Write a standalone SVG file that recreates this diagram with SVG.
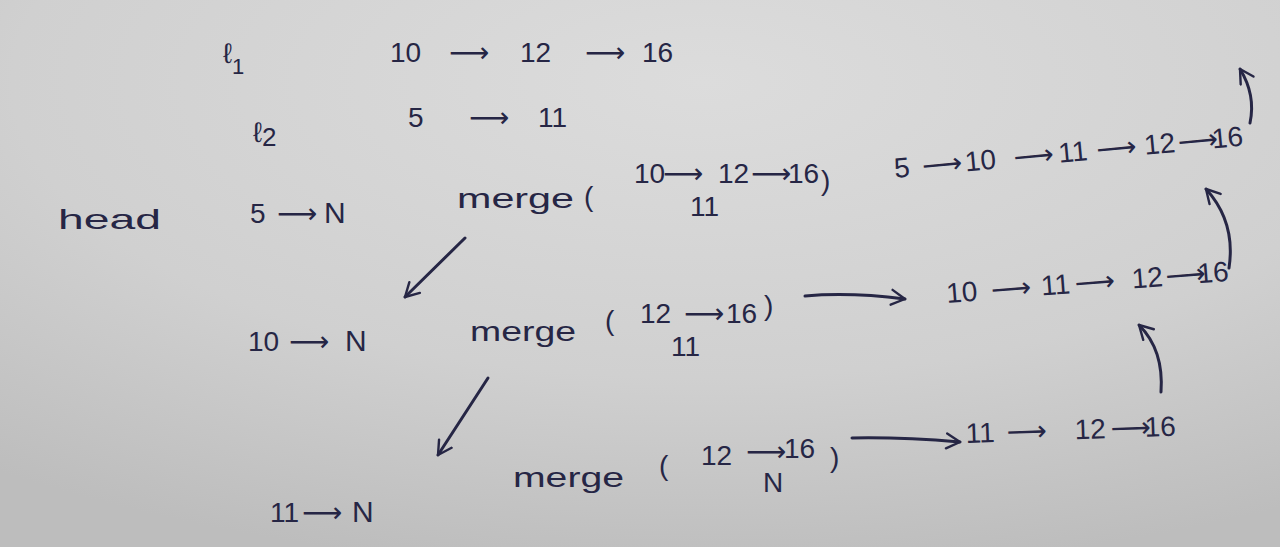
<svg xmlns="http://www.w3.org/2000/svg" width="1280" height="547" viewBox="0 0 1280 547">
<defs>
<radialGradient id="paper" cx="0.55" cy="0.15" r="0.9">
<stop offset="0" stop-color="#dcdcdc"/>
<stop offset="0.6" stop-color="#d0d0d0"/>
<stop offset="1" stop-color="#bdbdbd"/>
</radialGradient>
<marker id="ah" viewBox="0 0 12 12" refX="10" refY="6" markerWidth="6" markerHeight="6" orient="auto" markerUnits="strokeWidth">
<path d="M1,1 L10,6 L1,11" fill="none" stroke="#262645" stroke-width="1.6" stroke-linecap="round" stroke-linejoin="round"/>
</marker>
<style>
.t{font-family:"Liberation Sans","DejaVu Sans",sans-serif;fill:#262645;font-size:28px}
.a{font-family:"DejaVu Sans",sans-serif;font-size:28px}
.c{fill:none;stroke:#262645;stroke-width:3;stroke-linecap:round;marker-end:url(#ah)}
</style>
</defs>
<rect width="1280" height="547" fill="url(#paper)"/>
<g id="l1"><text class="t" x="223" y="63" font-size="38">ℓ<tspan font-size="22" dy="11">1</tspan></text></g>
<g id="list1"><text class="t" x="390" y="62" font-size="30"><tspan>10</tspan><tspan class="a" x="449" font-size="33">⟶</tspan><tspan x="520">12</tspan><tspan class="a" x="585" font-size="34">⟶</tspan><tspan x="642">16</tspan></text></g>
<g id="l2"><text class="t" x="253" y="142" font-size="38">ℓ<tspan font-size="26" dy="4">2</tspan></text></g>
<g id="list2"><text class="t" x="408" y="127" font-size="28"><tspan>5</tspan><tspan class="a" x="469" font-size="23">⟶</tspan><tspan x="538">11</tspan></text></g>
<g id="head"><text class="t" x="58" y="229" font-size="34" textLength="103" lengthAdjust="spacingAndGlyphs">head</text></g>
<g id="n5"><text class="t" x="250" y="223"><tspan>5</tspan><tspan class="a" x="277" font-size="26">⟶</tspan><tspan x="324" font-size="30">N</tspan></text></g>
<g id="merge1">
<text class="t" x="457" y="208" font-size="33" textLength="117" lengthAdjust="spacingAndGlyphs">merge</text>
<text class="t" x="584" y="206" font-size="34">(</text>
<text class="t" x="634" y="183" font-size="26"><tspan>10</tspan><tspan class="a" x="663" font-size="29">⟶</tspan><tspan x="718">12</tspan><tspan class="a" x="751" font-size="24">⟶</tspan><tspan x="788">16</tspan></text>
<text class="t" x="821" y="190" font-size="44">)</text>
<text class="t" x="690" y="216" font-size="20">11</text>
</g>
<g id="res1"><text class="t" x="895" y="178" font-size="30" transform="rotate(-5.3 895 178)"><tspan>5</tspan><tspan class="a" x="923" font-size="23">⟶</tspan><tspan x="966">10</tspan><tspan class="a" x="1015" font-size="25">⟶</tspan><tspan x="1060">11</tspan><tspan class="a" x="1098" font-size="32">⟶</tspan><tspan x="1146">12</tspan><tspan class="a" x="1180" font-size="24">⟶</tspan><tspan x="1214">16</tspan></text></g>
<g id="n10"><text class="t" x="248" y="351"><tspan>10</tspan><tspan class="a" x="289" font-size="30">⟶</tspan><tspan x="345" font-size="30">N</tspan></text></g>
<g id="merge2">
<text class="t" x="470" y="341" font-size="33" textLength="106" lengthAdjust="spacingAndGlyphs">merge</text>
<text class="t" x="605" y="330" font-size="36">(</text>
<text class="t" x="640" y="323"><tspan>12</tspan><tspan class="a" x="684" font-size="28">⟶</tspan><tspan x="726">16</tspan></text>
<text class="t" x="764" y="315" font-size="34">)</text>
<text class="t" x="671" y="356" font-size="22">11</text>
</g>
<g id="res2"><text class="t" x="947" y="303" transform="rotate(-4.5 947 303)"><tspan>10</tspan><tspan class="a" x="992" font-size="29">⟶</tspan><tspan x="1042">11</tspan><tspan class="a" x="1076" font-size="31">⟶</tspan><tspan x="1133">12</tspan><tspan class="a" x="1167" font-size="22">⟶</tspan><tspan x="1199">16</tspan></text></g>
<g id="merge3">
<text class="t" x="513" y="487" font-size="33" textLength="111" lengthAdjust="spacingAndGlyphs">merge</text>
<text class="t" x="659" y="475" font-size="34">(</text>
<text class="t" x="701" y="465"><tspan>12</tspan><tspan class="a" x="746" y="461" font-size="22">⟶</tspan><tspan x="784" y="458">16</tspan></text>
<text class="t" x="830" y="467" font-size="44">)</text>
<text class="t" x="763" y="492" font-size="20">N</text>
</g>
<g id="res3"><text class="t" x="966" y="443" transform="rotate(-2 966 443)"><tspan>11</tspan><tspan class="a" x="1007" font-size="34">⟶</tspan><tspan x="1075">12</tspan><tspan class="a" x="1111" font-size="21">⟶</tspan><tspan x="1145">16</tspan></text></g>
<g id="n11"><text class="t" x="270" y="522"><tspan>11</tspan><tspan class="a" x="302" font-size="29">⟶</tspan><tspan x="352" font-size="30">N</tspan></text></g>
<g id="connectors">
<path class="c" d="M465,238 L405,297"/>
<path class="c" d="M488,378 L438,455"/>
<path class="c" d="M805,296 Q850,292 905,299"/>
<path class="c" d="M852,438 Q900,437 960,442"/>
<path class="c" d="M1250,123 Q1256,95 1240,69"/>
<path class="c" d="M1229,268 Q1236,222 1206,189"/>
<path class="c" d="M1161,392 Q1164,350 1139,325"/>
</g>
</svg>
